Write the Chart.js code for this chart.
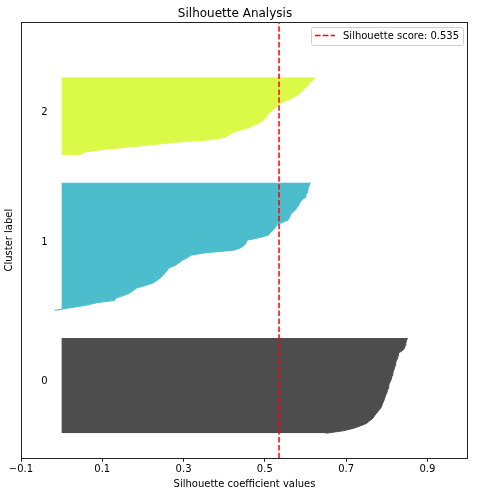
<!DOCTYPE html>
<html>
<head>
<meta charset="utf-8">
<script src="https://cdn.jsdelivr.net/npm/chart.js@4.4.0/dist/chart.umd.min.js"></script>
<style>
  html, body { margin: 0; padding: 0; background: #fff; }
  #wrap { width: 478px; height: 496px; }
</style>
</head>
<body>
<div id="wrap"><canvas id="silChart" width="478" height="496"></canvas></div>
<script>
// sorted silhouette values per cluster (bottom -> top of each band)
const cluster0 = [0.650, 0.694, 0.719, 0.736, 0.751, 0.758, 0.766, 0.770, 0.775, 0.780,
  0.785, 0.788, 0.790, 0.793, 0.795, 0.797, 0.800, 0.802, 0.804, 0.805, 0.807, 0.810,
  0.812, 0.813, 0.815, 0.817, 0.819, 0.821, 0.822, 0.824, 0.827, 0.828, 0.829, 0.839,
  0.844, 0.845, 0.847, 0.849, 0.851];
const cluster1 = [-0.017, 0.020, 0.059, 0.086, 0.130, 0.135, 0.154, 0.169, 0.177, 0.186,
  0.208, 0.226, 0.235, 0.243, 0.250, 0.255, 0.260, 0.265, 0.280, 0.289, 0.297, 0.309,
  0.319, 0.355, 0.424, 0.441, 0.450, 0.454, 0.457, 0.486, 0.509, 0.513, 0.521, 0.526,
  0.529, 0.542, 0.557, 0.561, 0.563, 0.568, 0.575, 0.579, 0.584, 0.586, 0.591, 0.599,
  0.601, 0.604, 0.606, 0.607, 0.610, 0.612];
const cluster2 = [0.044, 0.054, 0.093, 0.157, 0.221, 0.277, 0.363, 0.402, 0.412, 0.422,
  0.442, 0.464, 0.476, 0.488, 0.498, 0.503, 0.507, 0.512, 0.520, 0.528, 0.534, 0.542,
  0.559, 0.572, 0.581, 0.589, 0.596, 0.601, 0.608, 0.611, 0.621, 0.623];

const clusterNames = ['0', '1', '2'];
const clusterStarts = [10, 59, 121];   // y_lower of each band
const silhouetteScore = 0.535;
const xTicks = [-0.1, 0.1, 0.3, 0.5, 0.7, 0.9];
const yMax = 174;

const clusterValues = [cluster0, cluster1, cluster2];
const clusterColors = ['#4d4d4d', '#4bbdcc', '#dbf947'];

Chart.defaults.font.family = "'DejaVu Sans', sans-serif";
Chart.defaults.font.size = 10;
Chart.defaults.color = '#000';

const bandDatasets = clusterValues.map((vals, c) => ({
  label: 'cluster ' + clusterNames[c],
  data: vals.map((v, i) => ({ x: v, y: clusterStarts[c] + i })),
  borderColor: clusterColors[c],
  backgroundColor: clusterColors[c],
  borderWidth: 1,
  pointRadius: 0,
  tension: 0,
  fill: { value: 0 },
  order: 1
}));

const scoreDataset = {
  label: 'Silhouette score: ' + silhouetteScore.toFixed(3),
  data: [{ x: silhouetteScore, y: 0 }, { x: silhouetteScore, y: yMax }],
  borderColor: '#ff0000',
  borderWidth: 1.5,
  borderDash: [5.5, 2.4],
  pointRadius: 0,
  fill: false,
  order: 0
};

// axes frame (all four spines)
const framePlugin = {
  id: 'frame',
  afterDatasetsDraw(chart) {
    const { ctx, chartArea: a } = chart;
    ctx.save();
    ctx.strokeStyle = '#222';
    ctx.lineWidth = 1;
    ctx.strokeRect(Math.round(a.left) + 0.5, Math.round(a.top) + 0.5,
      Math.round(a.right - a.left) - 1, Math.round(a.bottom - a.top));
    ctx.restore();
  }
};

// cluster numbers placed at x = -0.05, middle of each band
const clusterLabelPlugin = {
  id: 'clusterLabels',
  afterDatasetsDraw(chart) {
    const { ctx, scales: { x, y } } = chart;
    ctx.save();
    ctx.font = "10px 'DejaVu Sans'";
    ctx.fillStyle = '#000';
    ctx.textAlign = 'left';
    ctx.textBaseline = 'alphabetic';
    clusterNames.forEach((name, c) => {
      const mid = clusterStarts[c] + clusterValues[c].length / 2;
      ctx.fillText(name, x.getPixelForValue(-0.05), y.getPixelForValue(mid));
    });
    ctx.restore();
  }
};

// matplotlib-like legend box in the upper right of the axes
const scoreLegendPlugin = {
  id: 'scoreLegend',
  afterDraw(chart) {
    const ds = chart.data.datasets[0];
    const { ctx, chartArea: a } = chart;
    ctx.save();
    ctx.font = "10px 'DejaVu Sans'";
    const tw = ctx.measureText(ds.label).width;
    const w = Math.round(4 + 20 + 8 + tw + 4);
    const h = 18;
    const right = Math.round(a.right) - 5;
    const top = Math.round(a.top) + 5;
    const left = right - w;
    ctx.beginPath();
    if (ctx.roundRect) ctx.roundRect(left + 0.5, top + 0.5, w, h, 2);
    else ctx.rect(left + 0.5, top + 0.5, w, h);
    ctx.fillStyle = 'rgba(255,255,255,0.8)';
    ctx.fill();
    ctx.strokeStyle = '#d0d0d0';
    ctx.lineWidth = 1;
    ctx.stroke();
    const cy = top + 8.5;
    ctx.beginPath();
    ctx.setLineDash(ds.borderDash);
    ctx.strokeStyle = ds.borderColor;
    ctx.lineWidth = ds.borderWidth;
    ctx.moveTo(left + 4, cy);
    ctx.lineTo(left + 24, cy);
    ctx.stroke();
    ctx.setLineDash([]);
    ctx.fillStyle = '#000';
    ctx.textAlign = 'left';
    ctx.textBaseline = 'alphabetic';
    ctx.fillText(ds.label, left + 32, top + 12);
    ctx.restore();
  }
};

new Chart(document.getElementById('silChart'), {
  type: 'line',
  data: { datasets: [scoreDataset, ...bandDatasets] },
  options: {
    indexAxis: 'y',
    responsive: false,
    devicePixelRatio: 1,
    animation: false,
    layout: { padding: { left: 2, right: 10, top: 0, bottom: 0 } },
    plugins: {
      legend: { display: false },
      tooltip: { enabled: false },
      title: {
        display: true,
        text: 'Silhouette Analysis',
        color: '#000',
        font: { size: 12, weight: 'normal' },
        padding: { top: 6.3, bottom: 1.3 }
      }
    },
    scales: {
      x: {
        type: 'linear',
        position: 'bottom',
        min: -0.1,
        max: 1.0,
        afterBuildTicks: (axis) => { axis.ticks = xTicks.map(v => ({ value: v })); },
        ticks: {
          padding: 1.7,
          maxRotation: 0,
          autoSkip: false,
          callback: (v) => (v < 0 ? '\u2212' : '') + Math.abs(v).toFixed(1)
        },
        grid: { display: true, drawOnChartArea: false, drawTicks: true, tickLength: 3.5, color: '#222', lineWidth: 1 },
        border: { display: false },
        title: { display: true, text: 'Silhouette coefficient values', padding: { top: 1.7, bottom: 5.1 } }
      },
      y: {
        type: 'linear',
        position: 'left',
        min: 0,
        max: yMax,
        ticks: { display: false },
        grid: { display: false, drawTicks: false },
        border: { display: false },
        title: { display: true, text: 'Cluster label', padding: { top: 1.5, bottom: 5.5 } }
      }
    }
  },
  plugins: [framePlugin, clusterLabelPlugin, scoreLegendPlugin]
});
</script>
</body>
</html>
